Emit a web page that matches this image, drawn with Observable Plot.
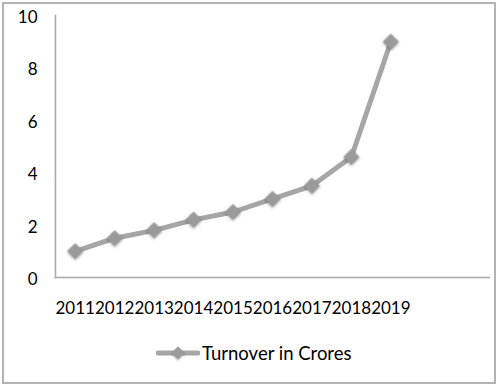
<!DOCTYPE html>
<html>
<head>
<meta charset="utf-8">
<script src="https://cdn.jsdelivr.net/npm/d3@7"></script>
<script src="https://cdn.jsdelivr.net/npm/@observablehq/plot@0.6"></script>
<style>
  html, body { margin: 0; padding: 0; background: #fff; }
  #wrap { position: relative; width: 500px; height: 387px; font-family: Lato, "Open Sans", sans-serif; }
  #frame { position: absolute; left: 2px; top: 2px; width: 494px; height: 382px; box-sizing: border-box; border: 2px solid #b3b3b3; }
  #chart { position: absolute; left: 0; top: 0; }
  #chart g[aria-label="dot"] { filter: drop-shadow(0px 1px 1.5px rgba(0,0,0,0.35)); }
  #chart g[aria-label="line"] { filter: blur(0.3px); }
  #legend { position: absolute; left: 156px; top: 341px; display: flex; align-items: center; font-size: 18.5px; color: #000; }
  #legend svg { display: block; margin-right: 2px; }
</style>
</head>
<body>
<div id="wrap">
  <div id="frame"></div>
  <div id="chart"></div>
  <div id="legend"></div>
</div>
<script>
const years = [2011, 2012, 2013, 2014, 2015, 2016, 2017, 2018, 2019];
const turnover = [1.0, 1.5, 1.8, 2.2, 2.5, 3.0, 3.5, 4.6, 9.0];
const yTicks = [0, 2, 4, 6, 8, 10];
const seriesName = "Turnover in Crores";

const data = years.map((y, i) => ({year: y, value: turnover[i]}));

const lineColor = "#a6a6a6";
const markerColor = "#9a9a9a";
const axisColor = "#a8a8a8";

const chart = Plot.plot({
  width: 500,
  height: 320,
  marginLeft: 55,
  marginRight: 11,
  marginTop: 15,
  marginBottom: 43,
  style: {fontFamily: "Lato, 'Open Sans', sans-serif", fontSize: "17px", color: "#000", background: "transparent"},
  x: {type: "linear", domain: [years[0] - 0.5, years[0] + 10.5]},
  y: {domain: [0, 10]},
  marks: [
    Plot.frame({anchor: "left", stroke: axisColor, strokeWidth: 1.5, strokeOpacity: 1}),
    Plot.frame({anchor: "bottom", stroke: axisColor, strokeWidth: 1.5, strokeOpacity: 1}),
    Plot.axisY({ticks: yTicks, tickSize: 0, tickPadding: 18, dy: 2, label: null, fill: "#000"}),
    Plot.axisX({ticks: years, tickFormat: "d", tickSize: 0, tickPadding: 24, label: null, fill: "#000"}),
    Plot.line(data, {x: "year", y: "value", stroke: lineColor, strokeWidth: 5, strokeLinejoin: "round"}),
    Plot.dot(data, {x: "year", y: "value", symbol: "diamond2", r: 7.2, fill: markerColor, stroke: "none"})
  ]
});
document.getElementById("chart").appendChild(chart);

// legend
const leg = document.getElementById("legend");
const ns = "http://www.w3.org/2000/svg";
const sw = document.createElementNS(ns, "svg");
sw.setAttribute("width", 44); sw.setAttribute("height", 24);
const sym = d3.symbol(d3.symbolDiamond2, 110)();
sw.innerHTML = `<line x1="2" x2="42" y1="12" y2="12" stroke="${lineColor}" stroke-width="5" stroke-linecap="round"/>`+
  `<path d="${sym}" transform="translate(22,12)" fill="${markerColor}" style="filter: drop-shadow(0 1px 1px rgba(0,0,0,0.3))"/>`;
leg.appendChild(sw);
const t = document.createElement("span");
t.textContent = seriesName;
leg.appendChild(t);
</script>
</body>
</html>
